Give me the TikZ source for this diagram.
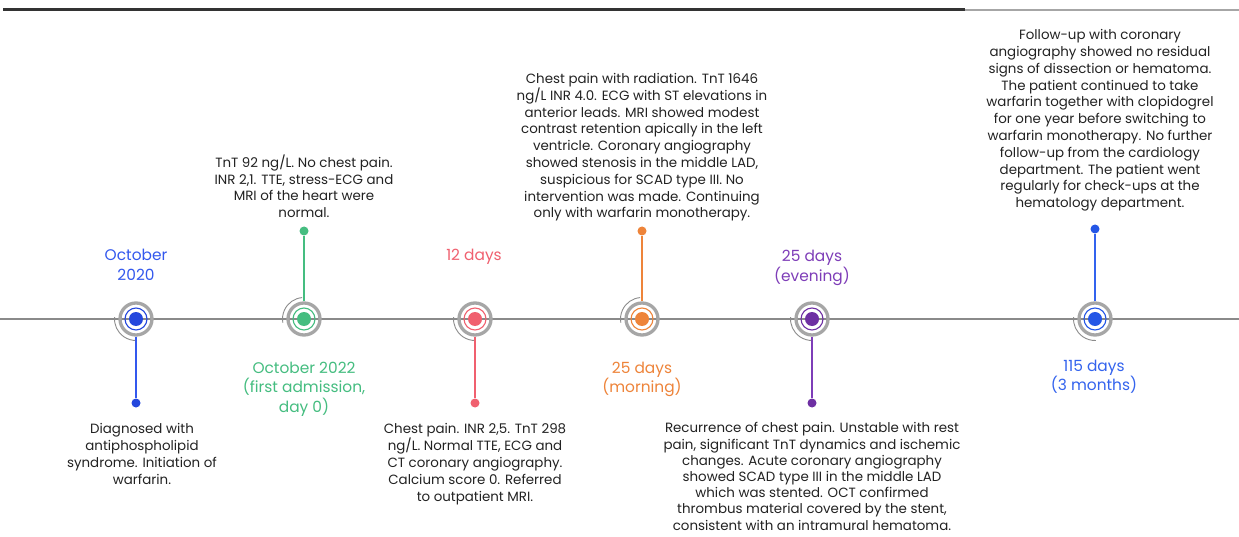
\documentclass[tikz,border=0pt]{standalone}
\usepackage{fontspec}
\setmainfont{Poppins}
\definecolor{txt}{HTML}{222222}
\definecolor{ringgray}{HTML}{A6A6A6}
\definecolor{arcgray}{HTML}{8C8C8C}
\definecolor{linegray}{HTML}{8A8A8A}
\definecolor{cblueA}{HTML}{2447DD}
\definecolor{cblueAt}{HTML}{3358EE}
\definecolor{cgreen}{HTML}{45BD80}
\definecolor{cred}{HTML}{F0606F}
\definecolor{corange}{HTML}{EE843A}
\definecolor{cpurple}{HTML}{6E2FA3}
\definecolor{cpurplet}{HTML}{7E3DB8}
\definecolor{cblueB}{HTML}{2456E6}
\definecolor{cblueBt}{HTML}{3363EE}
\newcommand\evmark[5]{%
  \node[ring] (#1) at (#2,-319) {};
  \draw[#3, line width=1.1pt] (#1.center) circle[radius=11];
  \fill[#3] (#1.center) circle[radius=7];
  \draw[arcgray, line width=0.9pt] (#1.center) ++(#4:21.5) arc[start angle=#4, end angle=#5, radius=21.5];
}
\begin{document}
\begin{tikzpicture}[x=1pt,y=1pt,
  body/.style={font=\fontsize{13.4}{16.8}\selectfont, align=center, text=txt, inner sep=0pt},
  lab/.style={font=\fontsize{15.4}{19.7}\selectfont, align=center, inner sep=0pt},
  ring/.style={circle, draw=ringgray, line width=3.3pt, minimum size=32pt, inner sep=0pt},
  enddot/.style={circle, minimum size=9pt, inner sep=0pt},
  stem/.style={line width=1.3pt}]
\useasboundingbox (0,0) rectangle (1239,-537);
\fill[white] (0,0) rectangle (1239,-537);
% top rule
\coordinate (tl) at (3,-10);
\coordinate (tm) at (965,-10);
\coordinate (tr) at (1239,-10);
\draw[black!80, line width=3pt] (tl) -- (tm);
\draw[black!35, line width=1.5pt] (tm) -- (tr);
% axis
\coordinate (al) at (0,-319);
\coordinate (ar) at (1239,-319);
\draw[linegray, line width=1.2pt] (al) -- (ar);
% end dots
\node[enddot, fill=cblueA] (d1) at (136,-403) {};
\node[enddot, fill=cgreen] (d2) at (304,-231) {};
\node[enddot, fill=cred] (d3) at (475,-403) {};
\node[enddot, fill=corange] (d4) at (642,-231) {};
\node[enddot, fill=cpurple] (d5) at (812,-403) {};
\node[enddot, fill=cblueB] (d6) at (1095,-229) {};
% markers
\evmark{m1}{136}{cblueA}{175}{272}
\evmark{m2}{304}{cgreen}{95}{190}
\evmark{m3}{475}{cred}{175}{272}
\evmark{m4}{642}{corange}{95}{190}
\evmark{m5}{812}{cpurple}{175}{272}
\evmark{m6}{1095}{cblueB}{175}{272}
% stems
\draw[stem, cblueAt] (m1) -- (d1);
\draw[stem, cgreen] (m2) -- (d2);
\draw[stem, cred] (m3) -- (d3);
\draw[stem, corange] (m4) -- (d4);
\draw[stem, cpurplet] (m5) -- (d5);
\draw[stem, cblueBt] (m6) -- (d6);
% date labels
\node[lab, text=cblueAt, anchor=south] (l1) at (136,-280.5) {October\\2020};
\node[lab, text=cgreen, anchor=north] (l2) at (304,-361.5) {October 2022\\(first admission,\\day 0)};
\node[lab, text=cred, anchor=south] (l3) at (474,-264.5) {12 days};
\node[lab, text=corange, anchor=north] (l4) at (642,-361.5) {25 days\\(morning)};
\node[lab, text=cpurplet, anchor=south] (l5) at (812,-285.5) {25 days\\(evening)};
\node[lab, text=cblueBt, anchor=north] (l6) at (1094,-359.5) {115 days\\(3 months)};
% texts
\node[body, anchor=north] (t1) at (142,-423.5) {Diagnosed with\\antiphospholipid\\syndrome. Initiation of\\warfarin.};
\node[body, anchor=south] (t2) at (304,-218) {TnT 92 ng/L. No chest pain.\\INR 2,1. TTE, stress-ECG and\\MRI of the heart were\\normal.};
\node[body, anchor=north] (t3) at (475,-423.5) {Chest pain. INR 2,5. TnT 298\\ng/L. Normal TTE, ECG and\\CT coronary angiography.\\Calcium score 0. Referred\\to outpatient MRI.};
\node[body, anchor=south] (t4) at (642,-221.5) {Chest pain with radiation. TnT 1646\\ng/L INR 4.0. ECG with ST elevations in\\anterior leads. MRI showed modest\\contrast retention apically in the left\\ventricle. Coronary angiography\\showed stenosis in the middle LAD,\\suspicious for SCAD type III. No\\intervention was made. Continuing\\only with warfarin monotherapy.};
\node[body, font=\fontsize{13.4}{16.2}\selectfont, anchor=north] (t5) at (812,-422.5) {Recurrence of chest pain. Unstable with rest\\pain, significant TnT dynamics and ischemic\\changes. Acute coronary angiography\\showed SCAD type III in the middle LAD\\which was stented. OCT confirmed\\thrombus material covered by the stent,\\consistent with an intramural hematoma.};
\node[body, anchor=south] (t6) at (1100,-211.5) {Follow-up with coronary\\angiography showed no residual\\signs of dissection or hematoma.\\The patient continued to take\\warfarin together with clopidogrel\\for one year before switching to\\warfarin monotherapy. No further\\follow-up from the cardiology\\department. The patient went\\regularly for check-ups at the\\hematology department.};
\end{tikzpicture}
\end{document}
